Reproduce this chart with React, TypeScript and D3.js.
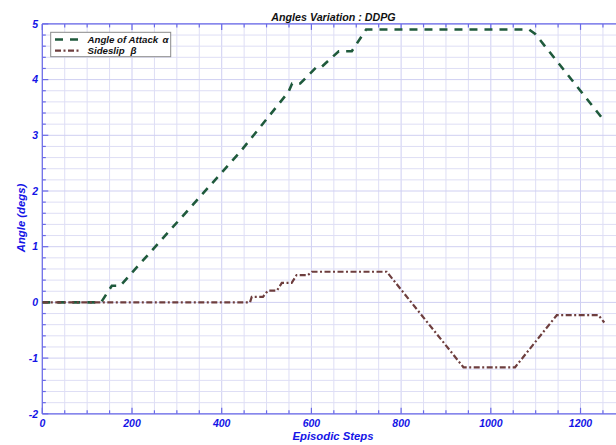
import React from "react";
import * as d3 from "d3";

const alphaSteps = [0, 131, 155, 174, 441, 549, 557, 575, 612, 623, 661, 690, 722, 1085, 1099, 1250];
const alphaVals = [0, 0, 0.3, 0.3, 2.7, 3.78, 3.93, 3.93, 4.23, 4.23, 4.51, 4.51, 4.9, 4.9, 4.82, 3.29];

const betaSteps = [0, 463, 467, 492, 503, 523, 534, 556, 567, 592, 601, 768, 939, 1054, 1147, 1240, 1253];
const betaVals = [0, 0, 0.1, 0.1, 0.21, 0.21, 0.35, 0.35, 0.49, 0.49, 0.55, 0.55, -1.165, -1.165, -0.23, -0.23, -0.36];

const xTickLabels = [0, 200, 400, 600, 800, 1000, 1200];
const yTickLabels = [-2, -1, 0, 1, 2, 3, 4, 5];

const W = 616;
const H = 445;
const FONT = "'Liberation Sans', Arial, sans-serif";
const AXIS = "#6a6ae8";
const LABEL = "#1414e6";
const GRID = "#dedef5";
const GRID_MAJOR = "#cfcff2";

export default function App() {
  const x = d3.scaleLinear().domain([0, 1280]).range([42.3, 616.4]);
  const y = d3.scaleLinear().domain([-2, 5]).range([413.8, 23.9]);

  const line = d3
    .line<[number, number]>()
    .x((d) => x(d[0]))
    .y((d) => y(d[1]));

  const alphaData: [number, number][] = alphaSteps.map((s, i) => [s, alphaVals[i]]);
  const betaData: [number, number][] = betaSteps.map((s, i) => [s, betaVals[i]]);

  const xMinor = d3.range(0, 1281, 50);
  const yMinor = d3.range(-2, 5.001, 0.2).map((v) => Math.round(v * 10) / 10);

  const x0 = x(0);
  const xr = W;
  const yTop = y(5);
  const yBot = y(-2);

  return (
    <svg width={W} height={H} style={{ position: "absolute", left: 0, top: 0, background: "#fff" }}>
      <defs>
        <clipPath id="plot">
          <rect x={x0} y={yTop - 2} width={xr - x0} height={yBot - yTop + 4} />
        </clipPath>
      </defs>
      <rect x={0} y={0} width={W} height={H} fill="#fff" />
      {/* grid */}
      <g>
        {xMinor.map((v) => (
          <line
            key={"gx" + v}
            x1={x(v)}
            x2={x(v)}
            y1={yTop}
            y2={yBot}
            stroke={v % 200 === 0 ? GRID_MAJOR : GRID}
            strokeWidth={1}
          />
        ))}
        {yMinor.map((v) => (
          <line
            key={"gy" + v}
            x1={x0}
            x2={xr}
            y1={y(v)}
            y2={y(v)}
            stroke={Number.isInteger(v) ? GRID_MAJOR : GRID}
            strokeWidth={1}
          />
        ))}
      </g>
      {/* axes */}
      <g stroke={AXIS} strokeWidth={1.2}>
        <line x1={x0} x2={xr} y1={yTop} y2={yTop} />
        <line x1={x0} x2={xr} y1={yBot} y2={yBot} />
        <line x1={x0} x2={x0} y1={yTop} y2={yBot} />
        {xMinor.map((v) => {
          const len = v % 200 === 0 ? 6 : 3.5;
          return (
            <g key={"tx" + v}>
              <line x1={x(v)} x2={x(v)} y1={yBot} y2={yBot - len} />
              <line x1={x(v)} x2={x(v)} y1={yTop} y2={yTop + len} />
            </g>
          );
        })}
        {yMinor.map((v) => {
          const len = Number.isInteger(v) ? 6 : 3.5;
          return <line key={"ty" + v} x1={x0} x2={x0 + len} y1={y(v)} y2={y(v)} />;
        })}
      </g>
      {/* tick labels */}
      <g fontFamily={FONT} fontWeight="bold" fontStyle="italic" fontSize={10.5} fill={LABEL}>
        {xTickLabels.map((v) => (
          <text key={"lx" + v} x={x(v)} y={427} textAnchor="middle">
            {v}
          </text>
        ))}
        {yTickLabels.map((v) => (
          <text key={"ly" + v} x={38} y={y(v) + 3.7} textAnchor="end">
            {v}
          </text>
        ))}
      </g>
      {/* lines */}
      <g clipPath="url(#plot)" fill="none">
        <path d={line(alphaData) || ""} stroke="#1f5a3c" strokeWidth={2.6} strokeDasharray="8,7" />
        <path d={line(betaData) || ""} stroke="#6e3e3e" strokeWidth={2.2} strokeDasharray="6,2.5,2,2.5" />
      </g>
      {/* title & labels */}
      <text x={333.5} y={20.5} textAnchor="middle" fontFamily={FONT} fontWeight="bold" fontStyle="italic" fontSize={10.7} fill="#111">
        Angles Variation : DDPG
      </text>
      <text x={333} y={440} textAnchor="middle" fontFamily={FONT} fontWeight="bold" fontStyle="italic" fontSize={11.3} fill={LABEL}>
        Episodic Steps
      </text>
      <text
        transform={`translate(24.5,218) rotate(-90)`}
        textAnchor="middle"
        fontFamily={FONT}
        fontWeight="bold"
        fontStyle="italic"
        fontSize={11.3}
        fill={LABEL}
      >
        Angle (degs)
      </text>
      {/* legend */}
      <g>
        <rect x={50.7} y={32.3} width={120} height={24.4} fill="#fff" stroke="#8a8a8a" strokeWidth={1} />
        <line x1={55} x2={79} y1={39.5} y2={39.5} stroke="#1f5a3c" strokeWidth={2.6} strokeDasharray="8,7" />
        <line x1={55} x2={79} y1={50.7} y2={50.7} stroke="#6e3e3e" strokeWidth={2.2} strokeDasharray="6,2.5,2,2.5" />
        <g fontFamily={FONT} fontWeight="bold" fontStyle="italic" fontSize={9.7} fill="#111">
          <text x={87.5} y={43}>Angle of Attack</text>
          <text x={162.5} y={43}>α</text>
          <text x={87.5} y={54.2}>Sideslip</text>
          <text x={130.5} y={54.2}>β</text>
        </g>
      </g>
    </svg>
  );
}
